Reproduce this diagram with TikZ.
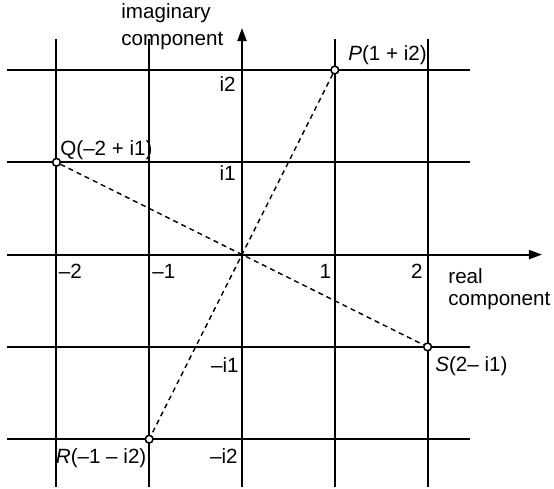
\documentclass[tikz,border=0pt]{standalone}
\usepackage{fontspec}
\setmainfont{Liberation Sans}
\usetikzlibrary{arrows.meta}
\begin{document}
\begin{tikzpicture}[x=0.5pt,y=-0.5pt,
  gridline/.style={line width=1pt},
  axis/.style={line width=1pt,-{Triangle[length=6.5pt,width=4.5pt]}},
  conn/.style={dash pattern=on 2.5pt off 2pt,line width=0.7pt},
  pt/.style={circle,draw,fill=white,line width=0.7pt,inner sep=0pt,minimum size=3.8pt},
  lbl/.style={font=\fontsize{10.3}{12}\selectfont,inner sep=0pt}]
\useasboundingbox (0,0) rectangle (554,489);
% grid
\foreach \yy in {70,162.3,346.9,439.2}
  \draw[gridline] (7,\yy) -- (470,\yy);
\foreach \xx in {56.5,149.2,334.8,427.6}
  \draw[gridline] (\xx,39) -- (\xx,487);
% axes
\draw[axis] (7,254.6) -- (542,254.6);
\draw[axis] (242,487) -- (242,28);
% points
\coordinate (O) at (242,254.6);
\node[pt] (P) at (334.8,70) {};
\node[pt] (Q) at (56.5,162.3) {};
\node[pt] (R) at (149.2,439.2) {};
\node[pt] (S) at (427.6,346.9) {};
\draw[conn] (P) -- (R);
\draw[conn] (Q) -- (S);
\node[pt] at (P) {};
\node[pt] at (Q) {};
\node[pt] at (R) {};
\node[pt] at (S) {};
% point labels
\node[lbl,anchor=base west] (Pl) at (348,60) {\textit{P}(1 + i2)};
\node[lbl,anchor=base west] (Ql) at (60,155) {Q(–2 + i1)};
\node[lbl,anchor=base west] (Sl) at (435,371.7) {\textit{S}(2– i1)};
\node[lbl,anchor=base west] (Rl) at (55.5,463) {\textit{R}(–1 – i2)};
% axis labels
\node[lbl,anchor=base east] (i2) at (236,91.7) {i2};
\node[lbl,anchor=base east] (i1) at (236,180.5) {i1};
\node[lbl,anchor=base east] (mi1) at (239,372) {–i1};
\node[lbl,anchor=base east] (mi2) at (238,463) {–i2};
\node[lbl,anchor=base west] (m2) at (58.5,278) {–2};
\node[lbl,anchor=base west] (m1) at (152,278) {–1};
\node[lbl,anchor=base east] (p1) at (331.5,278) {1};
\node[lbl,anchor=base east] (p2) at (423,278) {2};
\node[lbl,anchor=base west] (re1) at (448,283) {real};
\node[lbl,anchor=base west] (re2) at (448,305) {component};
\node[lbl,anchor=base west] (im1) at (121,18.3) {imaginary};
\node[lbl,anchor=base west] (im2) at (121,45.7) {component};
\end{tikzpicture}
\end{document}
